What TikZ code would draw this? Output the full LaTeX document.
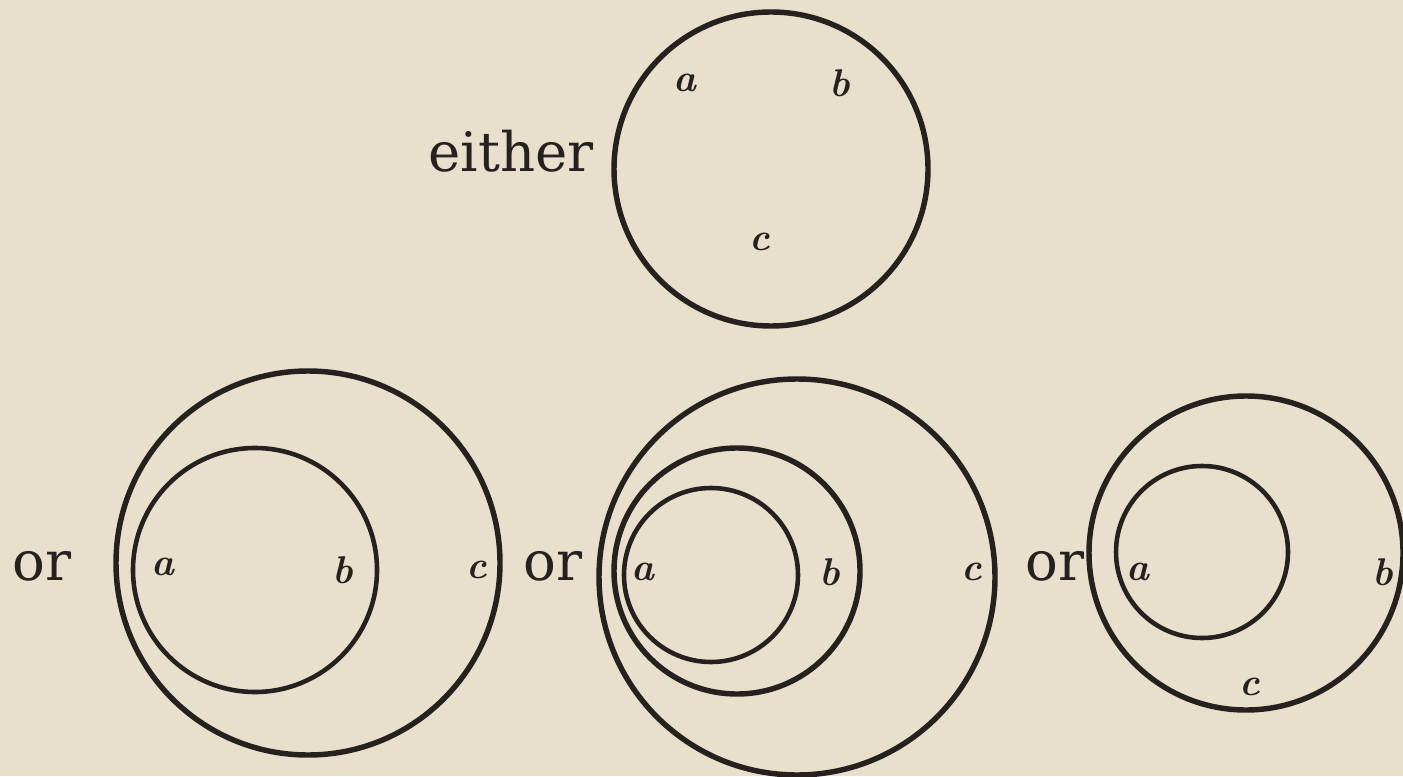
\documentclass[tikz,border=0pt]{standalone}
\usepackage{fontspec}
\usepackage{tikz}
\usetikzlibrary{positioning}
\newfontfamily\wordfont{DejaVu Serif}
\definecolor{paper}{RGB}{233,223,205}
\definecolor{ink}{RGB}{38,33,30}

\begin{document}
\begin{tikzpicture}
        \tikzset{
            ring/.style={draw=ink, line width=1.3pt},
            thickring/.style={draw=ink, line width=1.55pt},
            lbl/.style={text=ink, font=\fontsize{11}{13}\selectfont\itshape\bfseries, inner sep=0pt},
            word/.style={text=ink, font=\wordfont\fontsize{15.5}{18}\selectfont, inner sep=0pt}
        }
        \fill[paper] (0,0) rectangle (14.03,7.76);
        \useasboundingbox (0,0) rectangle (14.03,7.76);
        % either
        \node[word] (either) at (5.11,6.25) {either};
        \draw[thickring] (7.71,6.07) circle (1.57);
        \node[lbl] (a1) at (6.85,6.93) {a};
        \node[lbl] (b1) at (8.40,6.93) {b};
        \node[lbl] (c1) at (7.60,5.34) {c};
        % or, first
        \node[word] (or1) at (0.42,2.10) {or};
        \draw[thickring] (3.08,2.13) circle (1.92);
        \draw[ring] (2.55,2.06) circle (1.22);
        \node[lbl] (a2) at (1.63,2.09) {a};
        \node[lbl] (b2) at (3.43,2.06) {b};
        \node[lbl] (c2) at (4.77,2.06) {c};
        % or, second
        \node[word] (or2) at (5.53,2.10) {or};
        \draw[thickring] (7.97,1.99) circle (1.98);
        \draw[thickring] (7.37,2.05) circle (1.23);
        \draw[ring] (7.11,2.01) circle (0.87);
        \node[lbl] (a3) at (6.43,2.04) {a};
        \node[lbl] (b3) at (8.30,2.04) {b};
        \node[lbl] (c3) at (9.72,2.04) {c};
        % or, third
        \node[word] (or3) at (10.55,2.10) {or};
        \draw[thickring] (12.46,2.23) circle (1.57);
        \draw[ring] (12.02,2.24) circle (0.86);
        \node[lbl] (a4) at (11.38,2.04) {a};
        \node[lbl] (b4) at (13.83,2.04) {b};
        \node[lbl] (c4) at (12.50,0.89) {c};
    \end{tikzpicture}
\end{document}
